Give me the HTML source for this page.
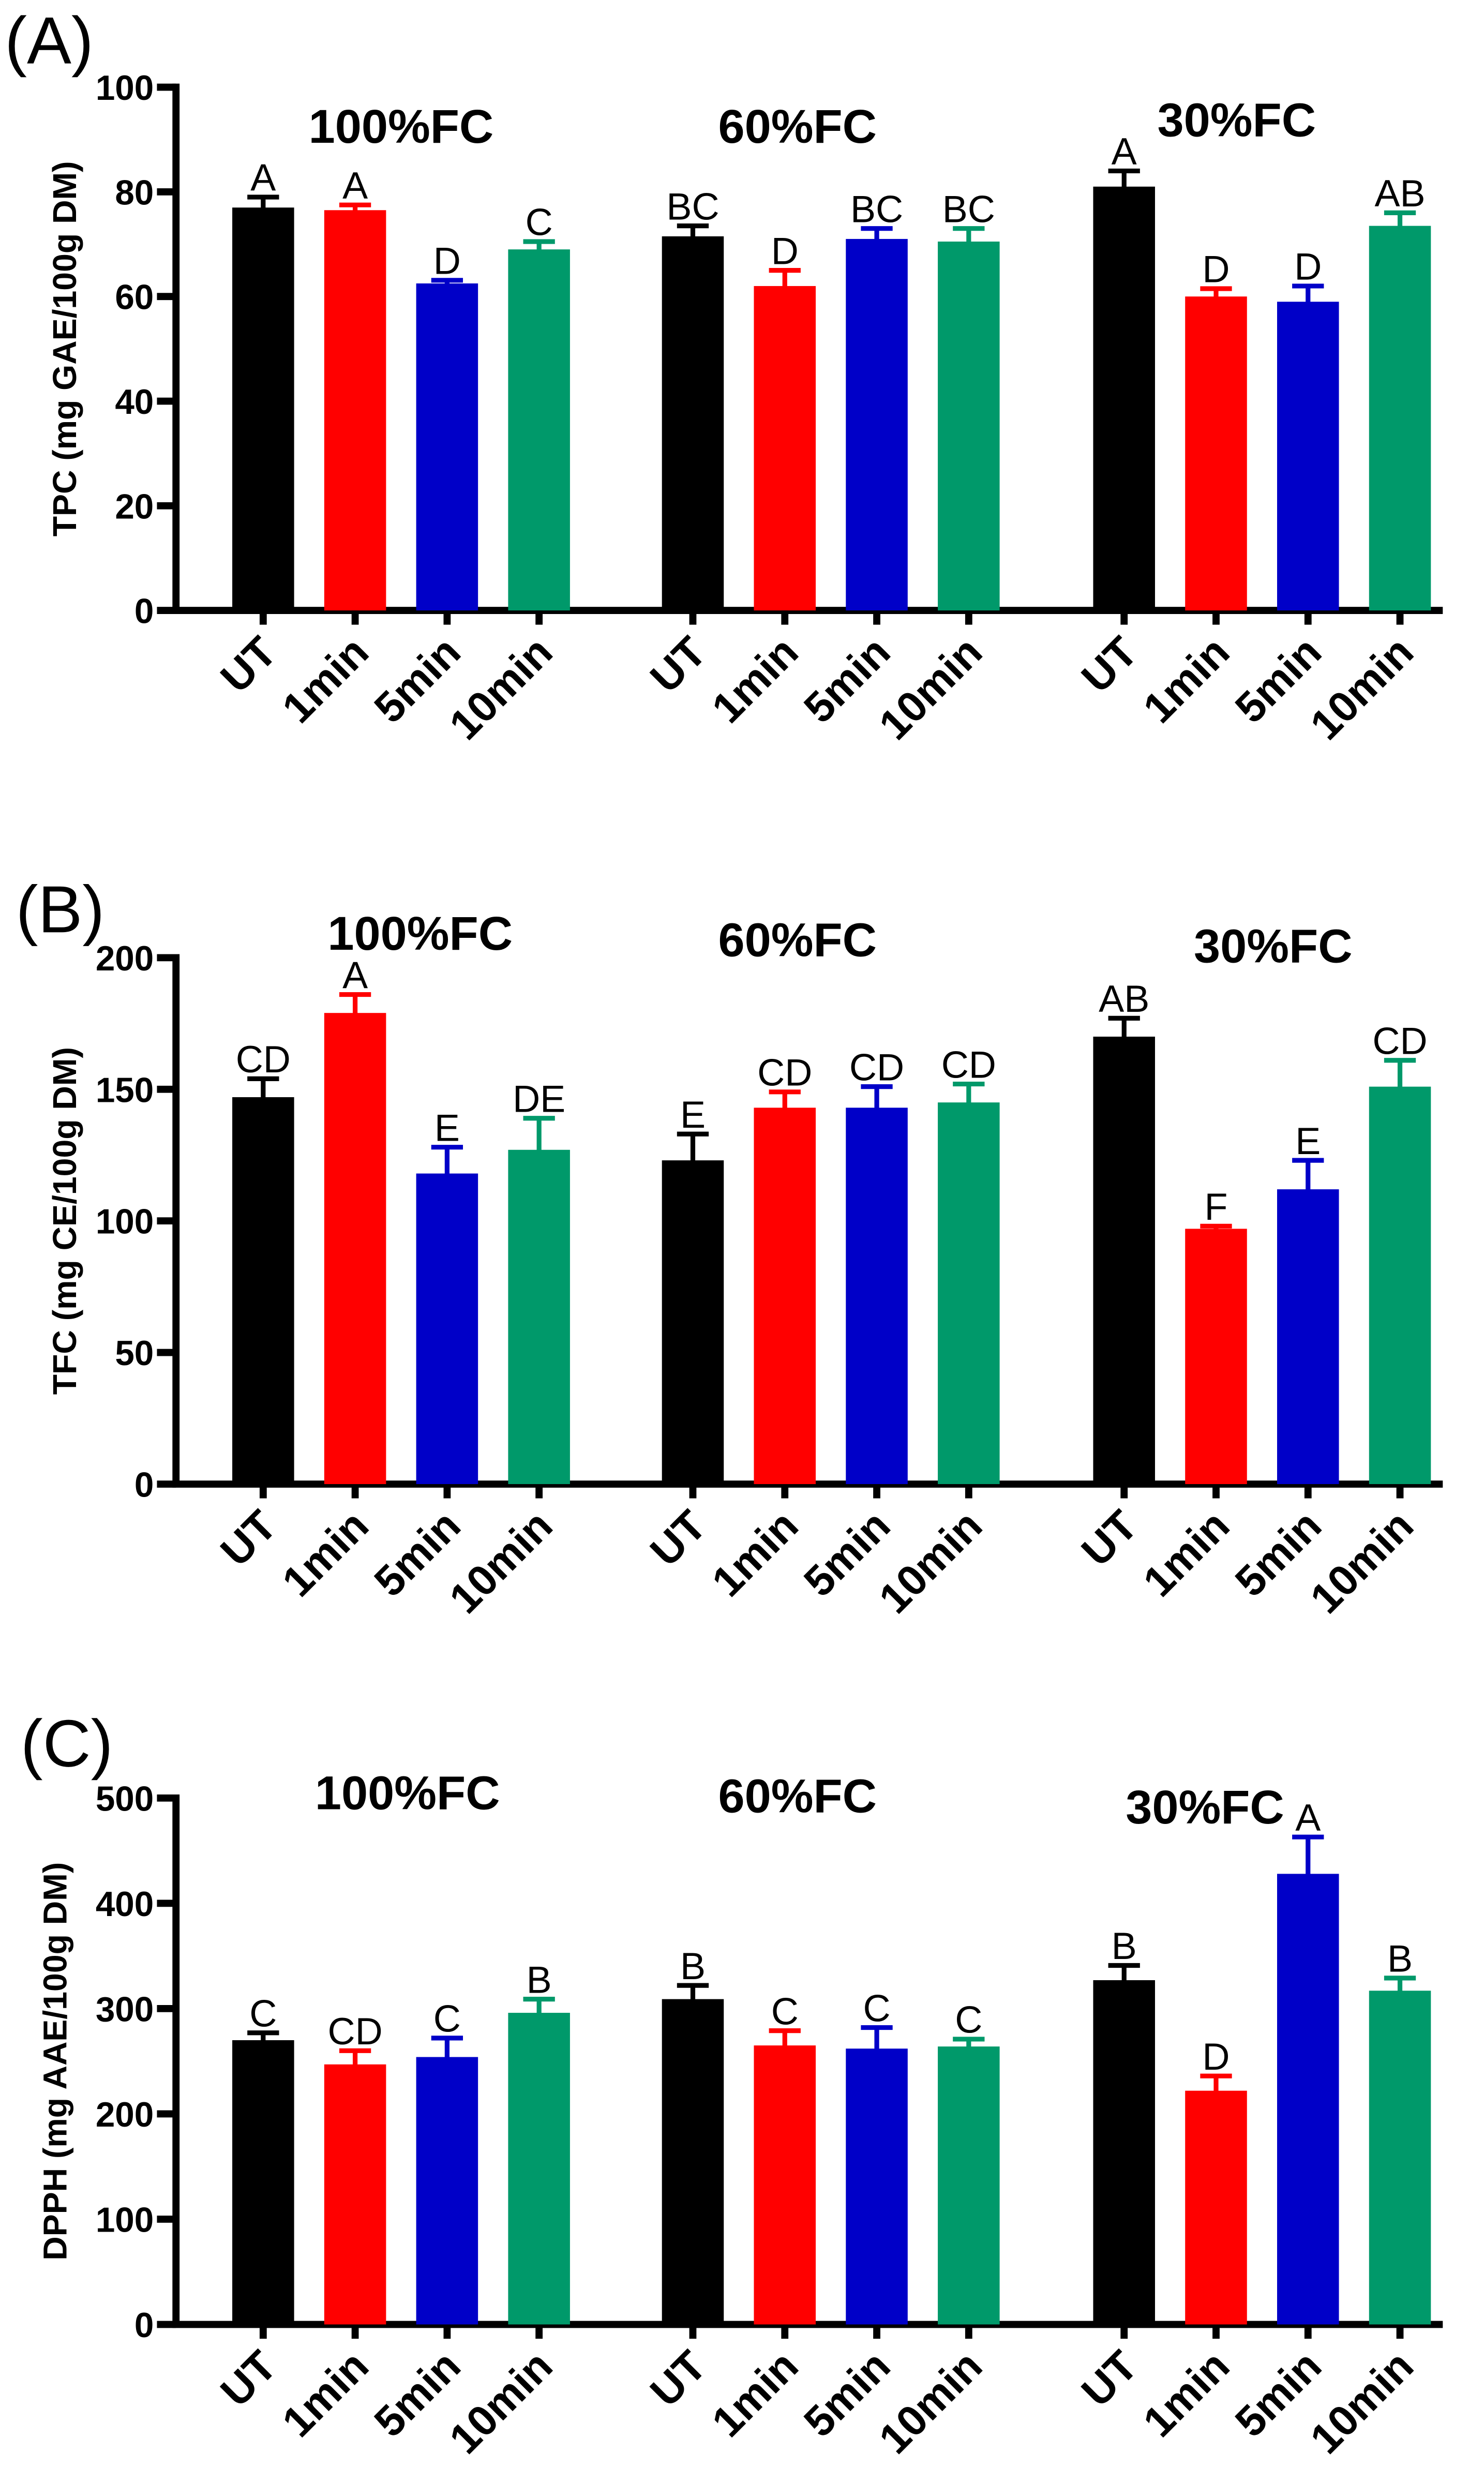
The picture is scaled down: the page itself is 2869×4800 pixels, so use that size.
<!DOCTYPE html>
<html><head><meta charset="utf-8"><style>
html,body{margin:0;padding:0;background:#fff}
svg{display:block}
text{font-family:"Liberation Sans",Arial,sans-serif}
</style></head><body>
<svg id="fig" width="2869" height="4800" viewBox="0 0 936 1566" preserveAspectRatio="none" xmlns="http://www.w3.org/2000/svg"></svg>
<script>
const categories = ["UT","1min","5min","10min"];
const groups = ["100%FC","60%FC","30%FC"];
const tpcValues = [77,76.5,62.5,69, 71.5,62,71,70.5, 81,60,59,73.5];
const tpcErrors = [2,1,0.6,1.5, 2,3,2,2.5, 3,1.5,3,2.5];
const tpcLetters = ["A","A","D","C","BC","D","BC","BC","A","D","D","AB"];
const tpcTicks = [0,20,40,60,80,100];
const tfcValues = [147,179,118,127, 123,143,143,145, 170,97,112,151];
const tfcErrors = [7,7,10,12, 10,6,8,7, 7,1,11,10];
const tfcLetters = ["CD","A","E","DE","E","CD","CD","CD","AB","F","E","CD"];
const tfcTicks = [0,50,100,150,200];
const dpphValues = [270,247,254,296, 309,265,262,264, 327,222,428,317];
const dpphErrors = [7,13,18,13, 13,14,20,7, 14,14,35,12];
const dpphLetters = ["C","CD","C","B","B","C","C","C","B","D","A","B"];
const dpphTicks = [0,100,200,300,400,500];

const colors = ["#000000","#ff0000","#0000c8","#00996a"];
const NS = "http://www.w3.org/2000/svg";
const svg = document.getElementById("fig");
function mk(tag, attrs, parent){const e=document.createElementNS(NS,tag);for(const k in attrs)e.setAttribute(k,attrs[k]);(parent||svg).appendChild(e);return e;}

const centers = [166,224,282,340, 437,495,553,611, 709,767,825,883];
const bw = 39, x0 = 111, x1 = 910, cap = 10, aw = 4.5;

function panel(cfg){
  const g = mk("g",{});
  
  
  const yS = v => cfg.y0 - (v/cfg.max)*(cfg.y0-cfg.yTop);
  const lab = mk("text",{x:cfg.labX,y:cfg.labY,"font-size":42},g); lab.textContent=cfg.label;
  
  
  const ya = mk("line",{x1:x0,y1:cfg.yTop-aw/2,x2:x0,y2:cfg.y0,stroke:"#000","stroke-width":aw},g);
  
  
  const xa = mk("line",{x1:x0-aw/2,y1:cfg.y0,x2:x1,y2:cfg.y0,stroke:"#000","stroke-width":aw},g);
  
  
  cfg.ticks.forEach(t=>{
    const y=yS(t);
    mk("line",{x1:x0-12,y1:y,x2:x0,y2:y,stroke:"#000","stroke-width":aw},g);
    const tl=mk("text",{x:x0-14,y:y+8,"font-size":22,"font-weight":"bold","text-anchor":"end"},g);
    tl.textContent=t;
    
    
  });
  const yc=(cfg.yTop+cfg.y0)/2;
  const yt=mk("text",{x:0,y:0,"font-size":21,"font-weight":"bold","text-anchor":"middle",transform:`translate(${cfg.titleX},${yc}) rotate(-90)`},g);
  yt.textContent=cfg.title;
  
  
  groups.forEach((gn,i)=>{
    const t=mk("text",{x:cfg.gx[i],y:cfg.gy[i],"font-size":30,"font-weight":"bold","text-anchor":"middle"},g);
    t.textContent=gn;
    
    
  });
  cfg.values.forEach((v,i)=>{
    const cx=centers[i], col=colors[i%4];
    const top=yS(v), et=yS(v+cfg.errors[i]);
    const r=mk("rect",{x:cx-bw/2,y:top,width:bw,height:cfg.y0-top,fill:col},g);
    
    
    mk("line",{x1:cx,y1:top+1,x2:cx,y2:et,stroke:col,"stroke-width":3},g);
    mk("line",{x1:cx-cap,y1:et,x2:cx+cap,y2:et,stroke:col,"stroke-width":3},g);
    mk("line",{x1:cx,y1:cfg.y0,x2:cx,y2:cfg.y0+9,stroke:"#000","stroke-width":aw},g);
    const l=mk("text",{x:cx,y:et-4,"font-size":24,"text-anchor":"middle"},g);
    l.textContent=cfg.letters[i];
    
    
    const xl=mk("text",{x:0,y:0,"font-size":27,"font-weight":"bold","text-anchor":"end",transform:`translate(${cx+10},${cfg.y0+28}) rotate(-45)`},g);
    xl.textContent=categories[i%4];
    
    
  });
}
panel({name:"panel-a-tpc",label:"(A)",labX:3,labY:40,y0:385,yTop:55,max:100,ticks:tpcTicks,title:"TPC (mg GAE/100g DM)",titleX:48,
  values:tpcValues,errors:tpcErrors,letters:tpcLetters,gx:[253,503,780],gy:[90,90,86]});
panel({name:"panel-b-tfc",label:"(B)",labX:10,labY:588,y0:936,yTop:604,max:200,ticks:tfcTicks,title:"TFC (mg CE/100g DM)",titleX:48,
  values:tfcValues,errors:tfcErrors,letters:tfcLetters,gx:[265,503,803],gy:[599,603,607]});
panel({name:"panel-c-dpph",label:"(C)",labX:13,labY:1114,y0:1466,yTop:1134,max:500,ticks:dpphTicks,title:"DPPH (mg AAE/100g DM)",titleX:42,
  values:dpphValues,errors:dpphErrors,letters:dpphLetters,gx:[257,503,760],gy:[1141,1143,1150]});
</script>
</body></html>
